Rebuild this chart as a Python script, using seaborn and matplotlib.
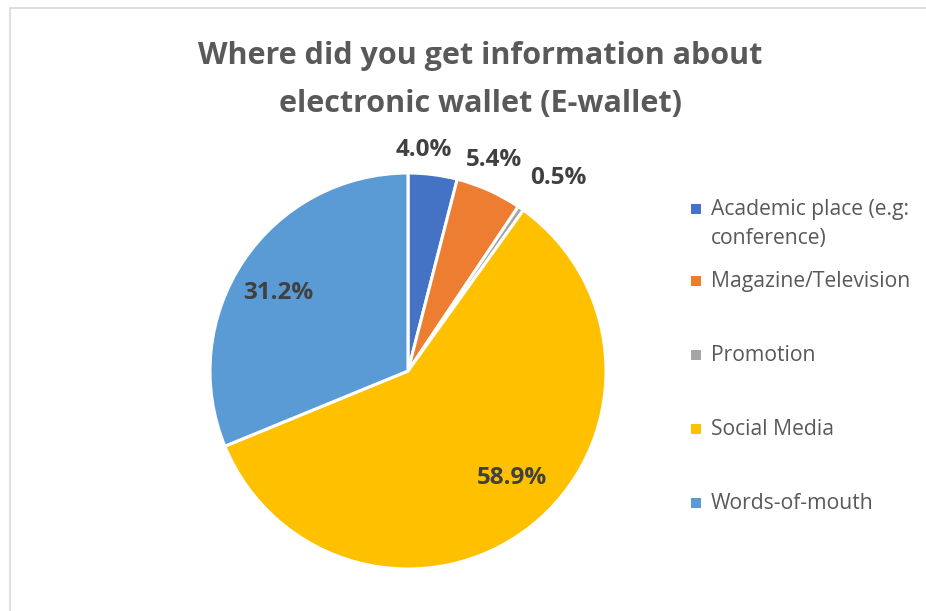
import numpy as np
import matplotlib
matplotlib.use("Agg")
import matplotlib.pyplot as plt
from matplotlib.patches import Rectangle
import seaborn as sns

# Survey answers: source of information about e-wallets (percent)
categories = ["Academic place (e.g:\nconference)", "Magazine/Television", "Promotion",
              "Social Media", "Words-of-mouth"]
shares = [4.0, 5.4, 0.5, 58.9, 31.2]
labels = ["4.0%", "5.4%", "0.5%", "58.9%", "31.2%"]
colors = ["#4472C4", "#ED7D31", "#A5A5A5", "#FFC000", "#5B9BD5"]

sns.set_theme(style="white")
plt.rcParams["font.family"] = ["Open Sans", "DejaVu Sans"]

W, H = 926, 611
fig = plt.figure(figsize=(W / 100, H / 100), dpi=100)
fig.patch.set_facecolor("white")

# chart frame
fig.patches.append(Rectangle((10 / W, -0.1), 1.2, 1 - 8 / H + 0.1, transform=fig.transFigure,
                             fill=False, edgecolor="#D9D9D9", linewidth=1.2))

cx, cy, r = 408, 371, 198
ax = fig.add_axes([(cx - r) / W, (H - cy - r) / H, 2 * r / W, 2 * r / H])
wedges, _ = ax.pie(shares, colors=colors, startangle=90, counterclock=False,
                   radius=1.0, wedgeprops=dict(edgecolor="white", linewidth=2.2))
ax.set_xlim(-1, 1)
ax.set_ylim(-1, 1)
ax.set_aspect("equal")
ax.axis("off")

# data labels: small slices outside, large ones inside (radius, angle nudge in degrees)
label_dist = [1.12, 1.15, 1.236, 0.754, 0.765]
label_turn = [3.1, 1.8, -3.1, 5.9, 2.7]
for w, lab, d, t in zip(wedges, labels, label_dist, label_turn):
    mid = np.deg2rad((w.theta1 + w.theta2) / 2 + t)
    ax.text(d * np.cos(mid), d * np.sin(mid), lab, ha="center", va="center",
            fontsize=17.5, fontweight="bold", color="#404040", clip_on=False)

fig.text(480 / W, 1 - 80 / H, "Where did you get information about\nelectronic wallet (E-wallet)",
         ha="center", va="center", fontsize=22, fontweight="bold", color="#595959",
         linespacing=1.75)

# legend
ys = [211, 283, 357, 431, 505]
for name, col, y in zip(categories, colors, ys):
    fig.patches.append(Rectangle((691 / W, 1 - (y + 3) / H), 10 / W, 10 / H,
                                 transform=fig.transFigure, facecolor=col, edgecolor="none"))
    fig.text(711 / W, 1 - (y - 12) / H, name, ha="left", va="top", fontsize=15.2,
             color="#595959", linespacing=1.5)

fig.savefig("out.png", dpi=100, facecolor="white")
